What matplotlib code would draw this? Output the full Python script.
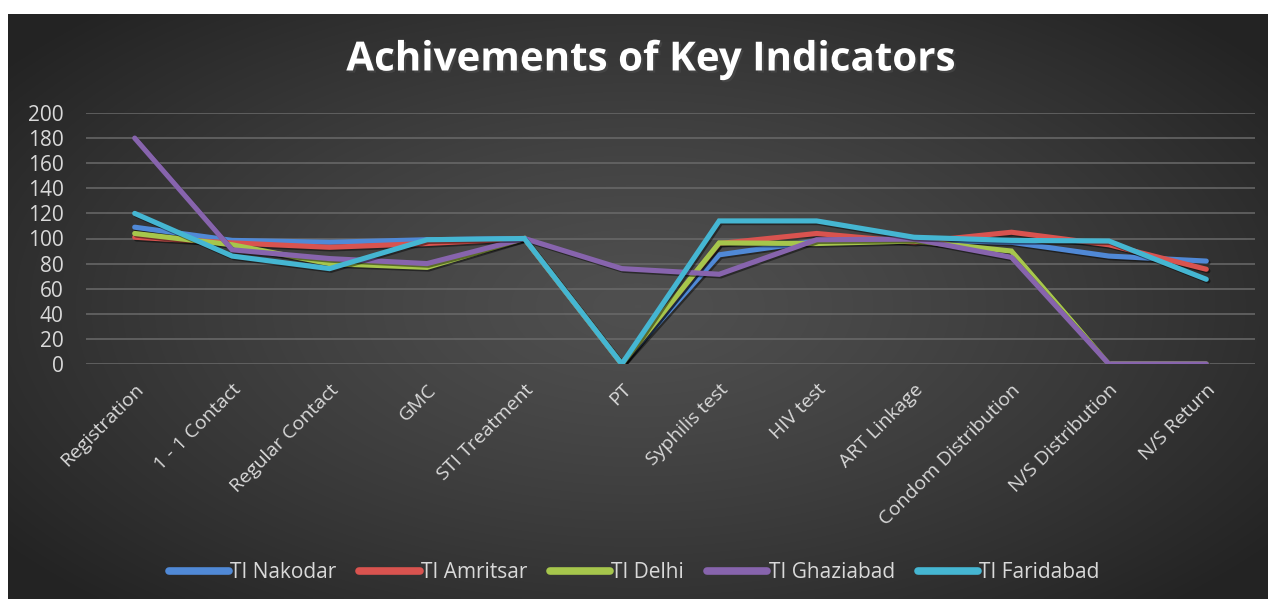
import numpy as np
import matplotlib
matplotlib.use("Agg")
import matplotlib.pyplot as plt
import matplotlib.patheffects as pe

# categories and series
categories = ["Registration", "1 - 1 Contact", "Regular Contact", "GMC",
              "STI Treatment", "PT", "Syphilis test", "HIV test",
              "ART Linkage", "Condom Distribution", "N/S Distribution",
              "N/S Return"]

ti_nakodar = [109, 98.5, 97, 99, 100, 0, 87, 98, 99, 97, 86, 82]
ti_amritsar = [101, 96.5, 93, 96, 100, 0, 96, 104, 97, 105, 95, 75.5]
ti_delhi = [104, 95, 80, 77, 100, 0, 96.5, 96, 98, 90, 0, 0]
ti_ghaziabad = [180, 91, 84, 80, 100, 76, 71.5, 99, 99.5, 85, 0, 0]
ti_faridabad = [120, 86, 76, 99, 100, 0, 114, 114, 101, 98.5, 98, 67.5]

series_names = ["TI Nakodar", "TI Amritsar", "TI Delhi", "TI Ghaziabad", "TI Faridabad"]
series_values = [ti_nakodar, ti_amritsar, ti_delhi, ti_ghaziabad, ti_faridabad]
colors = ["#5089d6", "#d9534f", "#a6c64c", "#8764ad", "#45b6d2"]

yticks = list(range(0, 201, 20))

W, H = 1273, 599
fig = plt.figure(figsize=(W / 100, H / 100), dpi=100, facecolor="white")

# dark radial gradient panel (Excel style chart area)
bg = fig.add_axes([8 / W, 0, 1 - 13 / W, 1 - 14 / H])
bg.set_axis_off()
gx, gy = np.meshgrid(np.linspace(-1, 1, 400), np.linspace(-1, 1, 200))
r = np.clip(np.sqrt(gx ** 2 + (gy * 0.9) ** 2) / 1.25, 0, 1)
shade = 0.31 - (0.31 - 0.14) * r ** 1.3
bg.imshow(np.dstack([shade, shade, shade]), aspect="auto",
          extent=[0, 1, 0, 1], interpolation="bilinear")
bg.set_xlim(0, 1)
bg.set_ylim(0, 1)

ax = fig.add_axes([86 / W, 1 - 364 / H, (1255 - 86) / W, (364 - 113) / H])
ax.patch.set_alpha(0)
x = np.arange(len(categories))

shadow = [pe.SimpleLineShadow(offset=(1.2, -1.2), shadow_color="black", alpha=0.45),
          pe.Normal()]
for name, vals, c in zip(series_names, series_values, colors):
    ax.plot(x, vals, color=c, lw=3.7, label=name, solid_joinstyle="miter",
            solid_capstyle="round", path_effects=shadow)

ax.set_xlim(-0.5, len(categories) - 0.5)
ax.set_ylim(0, 200)
ax.set_yticks(yticks)
ax.set_xticks(x)
ax.set_xticklabels(categories, rotation=45, ha="right", rotation_mode="anchor",
                   fontsize=14, color="#d9d9d9", family="Open Sans")
ax.tick_params(axis="x", length=0, pad=12)
ax.tick_params(axis="y", length=0, pad=16, labelsize=15, labelcolor="#d9d9d9")
for lab in ax.get_yticklabels():
    lab.set_family("Open Sans")
ax.grid(axis="y", color="#6a6a6a", lw=1.1)
ax.set_axisbelow(True)
for s in ax.spines.values():
    s.set_visible(False)

fig.text(650 / W, 1 - 60 / H, "Achivements of Key Indicators", ha="center", va="center",
         fontsize=29, fontweight="bold", color="white", family="Open Sans",
         path_effects=[pe.withSimplePatchShadow(offset=(1.5, -1.5), alpha=0.6)])

leg = fig.legend(*ax.get_legend_handles_labels(), loc="center",
                 bbox_to_anchor=(634 / W, 1 - 573 / H), ncol=5, frameon=False,
                 handlelength=2.9, handletextpad=0.05, columnspacing=1.1,
                 prop={"family": "Open Sans", "size": 15})
for t in leg.get_texts():
    t.set_color("#d9d9d9")
for h in leg.legend_handles:
    h.set_linewidth(5.5)
    h.set_path_effects([])

fig.savefig("out.png", dpi=100, facecolor="white")
